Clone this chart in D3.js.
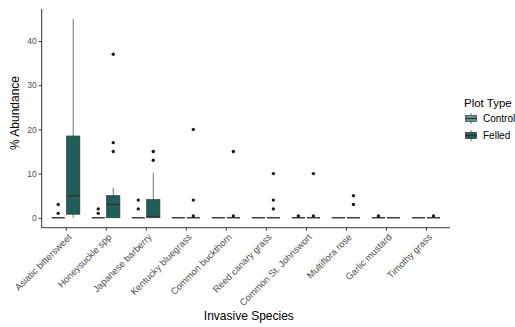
<!DOCTYPE html>
<html>
<head>
<meta charset="utf-8">
<script src="https://cdn.jsdelivr.net/npm/d3@7"></script>
<style>
  body { margin: 0; background: #fff; }
  svg { font-family: "Liberation Sans", Arial, sans-serif; }
</style>
</head>
<body>
<svg id="chart" width="515" height="327"></svg>
<script>
// categories along the x axis
const species = ['Asiatic bittersweet', 'Honeysuckle spp', 'Japanese barberry', 'Kentucky bluegrass',
  'Common buckthorn', 'Reed canary grass', 'Common St. Johnswort', 'Multiflora rose',
  'Garlic mustard', 'Timothy grass'];
const plotTypes = ['Control', 'Felled'];
const yTicks = [0, 10, 20, 30, 40];

// box stats, one entry per species
const controlLow = [0, 0, 0, 0, 0, 0, 0, 0, 0, 0];
const controlQ1 = [0, 0, 0, 0, 0, 0, 0, 0, 0, 0];
const controlMed = [0, 0, 0, 0, 0, 0, 0, 0, 0, 0];
const controlQ3 = [0, 0, 0, 0, 0, 0, 0, 0, 0, 0];
const controlHigh = [0, 0, 0, 0, 0, 0, 0, 0, 0, 0];
const controlOut = [[1, 3], [1, 2], [2, 4], [], [], [], [0.4], [], [0.4], []];

const felledLow = [0, 0, 0, 0, 0, 0, 0, 0, 0, 0];
const felledQ1 = [0.8, 0, 0, 0, 0, 0, 0, 0, 0, 0];
const felledMed = [5, 3, 0.3, 0, 0, 0, 0, 0, 0, 0];
const felledQ3 = [18.5, 5, 4.1, 0, 0, 0, 0, 0, 0, 0];
const felledHigh = [45, 6.8, 10.2, 0, 0, 0, 0, 0, 0, 0];
const felledOut = [[], [15, 17, 37], [13, 15], [0.4, 4, 20], [0.4, 15], [2, 4, 10], [0.4, 10], [3, 5], [], [0.4]];

const colors = { Control: '#5f9e97', Felled: '#1e5f5a' };

const boxes = [];
species.forEach((s, i) => {
  boxes.push({ species: s, type: 'Control', low: controlLow[i], q1: controlQ1[i], med: controlMed[i], q3: controlQ3[i], high: controlHigh[i], out: controlOut[i] });
  boxes.push({ species: s, type: 'Felled', low: felledLow[i], q1: felledQ1[i], med: felledMed[i], q3: felledQ3[i], high: felledHigh[i], out: felledOut[i] });
});

const margin = { top: 9, left: 41.7, right: 65, bottom: 99.3 };
const width = 515 - margin.left - margin.right;
const height = 327 - margin.top - margin.bottom;

const svg = d3.select('#chart');
const chart = svg.append('g').attr('transform', `translate(${margin.left},${margin.top})`);

const xScale = d3.scalePoint().domain(species).range([0, width]).padding(0.6);
const step = xScale.step();
const dodge = d3.scaleBand().domain(plotTypes).range([-0.375 * step, 0.375 * step]);
const boxW = dodge.bandwidth() * 0.88;

const yScale = d3.scaleLinear().domain([-2.25, 47.25]).range([height, 0]);

// boxes
const g = chart.selectAll('.box').data(boxes).enter().append('g')
  .attr('class', 'box')
  .attr('transform', d => `translate(${xScale(d.species) + dodge(d.type) + dodge.bandwidth() / 2},0)`);

g.append('line')
  .attr('y1', d => yScale(d.q3)).attr('y2', d => yScale(d.high))
  .attr('stroke', '#333').attr('stroke-width', 0.7);
g.append('line')
  .attr('y1', d => yScale(d.q1)).attr('y2', d => yScale(d.low))
  .attr('stroke', '#333').attr('stroke-width', 0.7);
g.append('rect')
  .attr('x', -boxW / 2).attr('width', boxW)
  .attr('y', d => yScale(d.q3)).attr('height', d => yScale(d.q1) - yScale(d.q3))
  .attr('fill', d => colors[d.type]).attr('stroke', '#333').attr('stroke-width', 0.7);
g.append('line')
  .attr('x1', -boxW / 2).attr('x2', boxW / 2)
  .attr('y1', d => yScale(d.med)).attr('y2', d => yScale(d.med))
  .attr('stroke', '#333').attr('stroke-width', 1.4);
g.selectAll('circle').data(d => d.out).enter().append('circle')
  .attr('cx', 0).attr('cy', d => yScale(d)).attr('r', 1.7).attr('fill', '#1a1a1a');

// axes
const xAxis = d3.axisBottom(xScale).tickSize(3).tickSizeOuter(0);
const yAxis = d3.axisLeft(yScale).tickValues(yTicks).tickSize(3).tickSizeOuter(0);

const xg = chart.append('g').attr('transform', `translate(0,${height})`).call(xAxis);
xg.select('.domain').attr('d', `M0,0H${width}`).attr('stroke', '#000').attr('stroke-width', 0.8);
xg.selectAll('.tick line').attr('stroke', '#333');
xg.selectAll('.tick text')
  .attr('fill', '#4d4d4d').attr('font-size', 9.4)
  .attr('text-anchor', 'end')
  .attr('dy', null).attr('y', 0)
  .attr('transform', 'translate(6,10) rotate(-45)');

const yg = chart.append('g').call(yAxis);
yg.select('.domain').attr('d', `M0,${height}V0`).attr('stroke', '#000').attr('stroke-width', 0.8);
yg.selectAll('.tick line').attr('stroke', '#333');
yg.selectAll('.tick text').attr('fill', '#4d4d4d').attr('font-size', 8.5).attr('x', -5);

// titles
svg.append('text').attr('x', margin.left + width / 2 + 3).attr('y', 320)
  .attr('text-anchor', 'middle').attr('font-size', 12).attr('fill', '#000').text('Invasive Species');
svg.append('text').attr('transform', 'translate(19,113) rotate(-90)')
  .attr('text-anchor', 'middle').attr('font-size', 12).attr('fill', '#000').text('% Abundance');

// legend
const legend = svg.append('g').attr('transform', 'translate(464,0)');
legend.append('text').attr('x', 0).attr('y', 106.5).attr('font-size', 11.5).text('Plot Type');
const key = legend.selectAll('.key').data(plotTypes).enter().append('g')
  .attr('transform', (d, i) => `translate(0,${113 + i * 17})`);
key.append('line').attr('x1', 7).attr('x2', 7).attr('y1', 0).attr('y2', 11)
  .attr('stroke', '#333').attr('stroke-width', 0.7);
key.append('rect').attr('x', 1.5).attr('y', 2.5).attr('width', 11).attr('height', 6)
  .attr('fill', d => colors[d]).attr('stroke', '#333').attr('stroke-width', 0.7);
key.append('line').attr('x1', 1.5).attr('x2', 12.5).attr('y1', 5.5).attr('y2', 5.5)
  .attr('stroke', '#333').attr('stroke-width', 1.2);
key.append('text').attr('x', 19).attr('y', 9).attr('font-size', 10).attr('fill', '#000').text(d => d);
</script>
</body>
</html>
